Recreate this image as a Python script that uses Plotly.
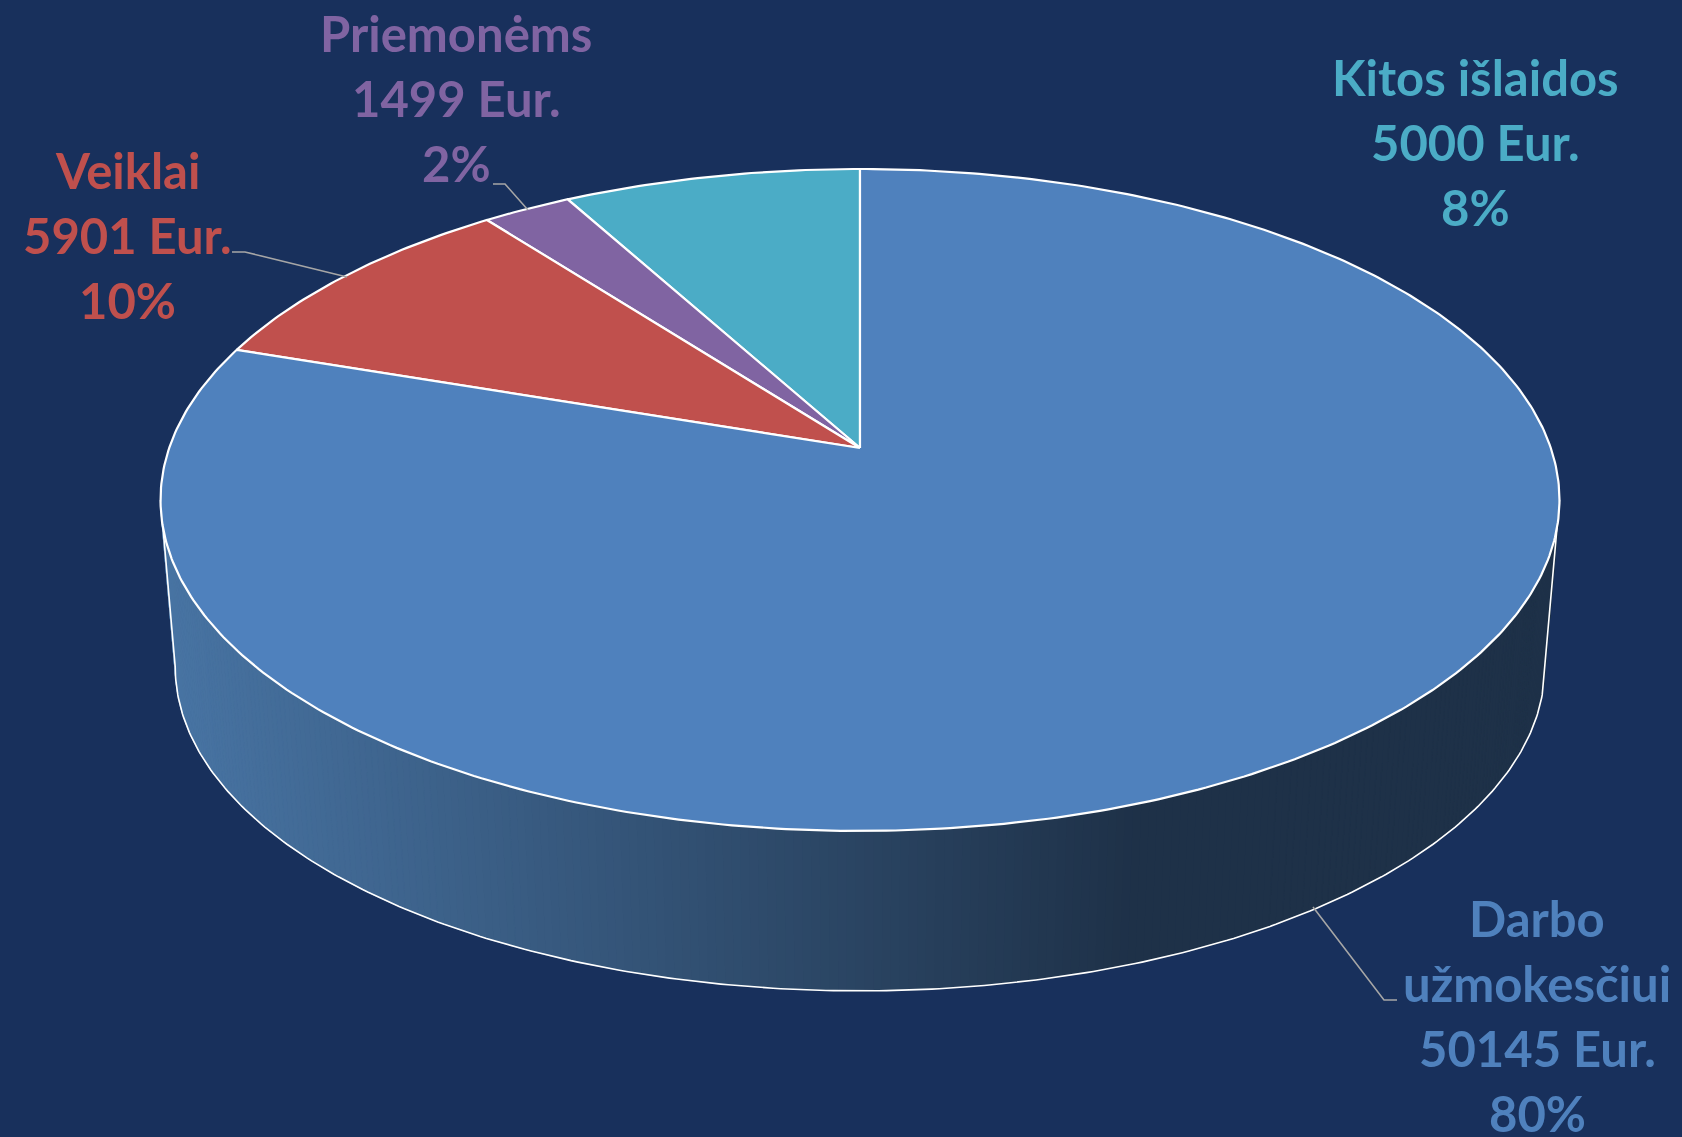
import numpy as np
import plotly.graph_objects as go

# ---- data -------------------------------------------------------------
categories = ["Kitos išlaidos", "Priemonėms", "Veiklai", "Darbo užmokesčiui"]
values = [5000, 1499, 5901, 50145]
percent_labels = ["8%", "2%", "10%", "80%"]
colors = ["#4BACC6", "#8064A2", "#C0504D", "#4F81BD"]

# ---- page / perspective set-up ----------------------------------------
W, H = 1682, 1137
BG = "#18305C"
CX, CY, RX, RY, K = 860.0, 448.0, 690.8, 322.8, 0.157
LOW_S, LOW_CY = 0.979, 616.0
TANGENT = np.arccos(-K)  # angle at which the disk outline is widest


def project(theta, scale=1.0, cy=CY):
    """theta: clockwise from 12 o'clock -> perspective-tilted disk."""
    u, v = np.sin(theta), np.cos(theta)
    d = 1 + K * v
    return CX + scale * RX * u / d, cy - scale * RY * v / d


def lerp_color(t):
    a, b = (72, 116, 163), (30, 49, 72)
    return "rgb(%d,%d,%d)" % tuple(round(p + (q - p) * t) for p, q in zip(a, b))


fig = go.Figure()

# ---- side wall: thin strips giving the horizontal shading --------------
sweep = np.linspace(TANGENT, 2 * np.pi - TANGENT, 260)
for a0, a1 in zip(sweep[:-1], sweep[1:]):
    tx0, ty0 = project(a0)
    tx1, ty1 = project(a1)
    bx0, by0 = project(a0, LOW_S, LOW_CY)
    bx1, by1 = project(a1, LOW_S, LOW_CY)
    t = float(np.clip(((bx0 + bx1) / 2 - 180) / (1130 - 180), 0, 1))
    c = lerp_color(t)
    fig.add_trace(go.Scatter(
        x=[tx0, tx1, bx1, bx0, tx0], y=[ty0, ty1, by1, by0, ty0],
        mode="lines", fill="toself", fillcolor=c,
        line=dict(color=c, width=1), hoverinfo="skip", showlegend=False))

# lower rim plus the two silhouette edges
rim = np.linspace(TANGENT, 2 * np.pi - TANGENT, 300)
lx, ly = project(rim, LOW_S, LOW_CY)
tx_r, ty_r = project(np.array([TANGENT]))
tx_l, ty_l = project(np.array([2 * np.pi - TANGENT]))
fig.add_trace(go.Scatter(
    x=np.r_[tx_r, lx, tx_l], y=np.r_[ty_r, ly, ty_l], mode="lines",
    line=dict(color="white", width=1.6),
    hoverinfo="skip", showlegend=False))

# ---- top face slices (counter-clockwise from 12 o'clock) ---------------
total = sum(values)
start = 0.0
for name, val, col in zip(categories, values, colors):
    end = start + val / total * 2 * np.pi
    th = -np.linspace(start, end, max(int((end - start) * 90), 8))
    x, y = project(th)
    fig.add_trace(go.Scatter(
        x=np.r_[CX, x, CX], y=np.r_[CY, y, CY],
        mode="lines", fill="toself", fillcolor=col,
        line=dict(color="white", width=2.2),
        name=name, hovertemplate=name + ": %{text}<extra></extra>",
        text=[val] * (len(th) + 2), showlegend=False))
    start = end

# ---- leader lines ------------------------------------------------------
leaders = [
    ([232, 245, 347], [252, 252, 277]),
    ([493, 505, 528], [184, 184, 210]),
    ([1397, 1384, 1313], [1000, 1000, 907]),
]
for lxs, lys in leaders:
    fig.add_trace(go.Scatter(x=lxs, y=lys, mode="lines",
                             line=dict(color="#A6A6A6", width=1.6),
                             hoverinfo="skip", showlegend=False))

# ---- labels ------------------------------------------------------------
label_lines = [
    [categories[0], f"{values[0]} Eur.", percent_labels[0]],
    [categories[1], f"{values[1]} Eur.", percent_labels[1]],
    [categories[2], f"{values[2]} Eur.", percent_labels[2]],
    ["Darbo", "užmokesčiui", f"{values[3]} Eur.", percent_labels[3]],
]
label_pos = [(1475, 77), (456, 33), (127, 170), (1537, 918)]
PITCH = 65
annotations = []
for lines, (lx0, ly0), col in zip(label_lines, label_pos, colors):
    for i, s in enumerate(lines):
        annotations.append(dict(
            x=lx0, y=ly0 + i * PITCH, xref="x", yref="y", text=s,
            showarrow=False, xanchor="center", yanchor="middle",
            font=dict(family="Lato, Noto Sans, sans-serif", size=49,
                      color=col, weight=700)))

fig.update_layout(
    width=W, height=H, margin=dict(l=0, r=0, t=0, b=0),
    paper_bgcolor=BG, plot_bgcolor=BG, showlegend=False,
    xaxis=dict(range=[0, W], visible=False, fixedrange=True),
    yaxis=dict(range=[H, 0], visible=False, fixedrange=True),
    annotations=annotations,
)
fig.write_html(
    "out.html",
    config={"displayModeBar": False},
    post_script="document.body.style.margin='0';"
                "document.body.style.overflow='hidden';"
                f"document.body.style.background='{BG}';",
)
